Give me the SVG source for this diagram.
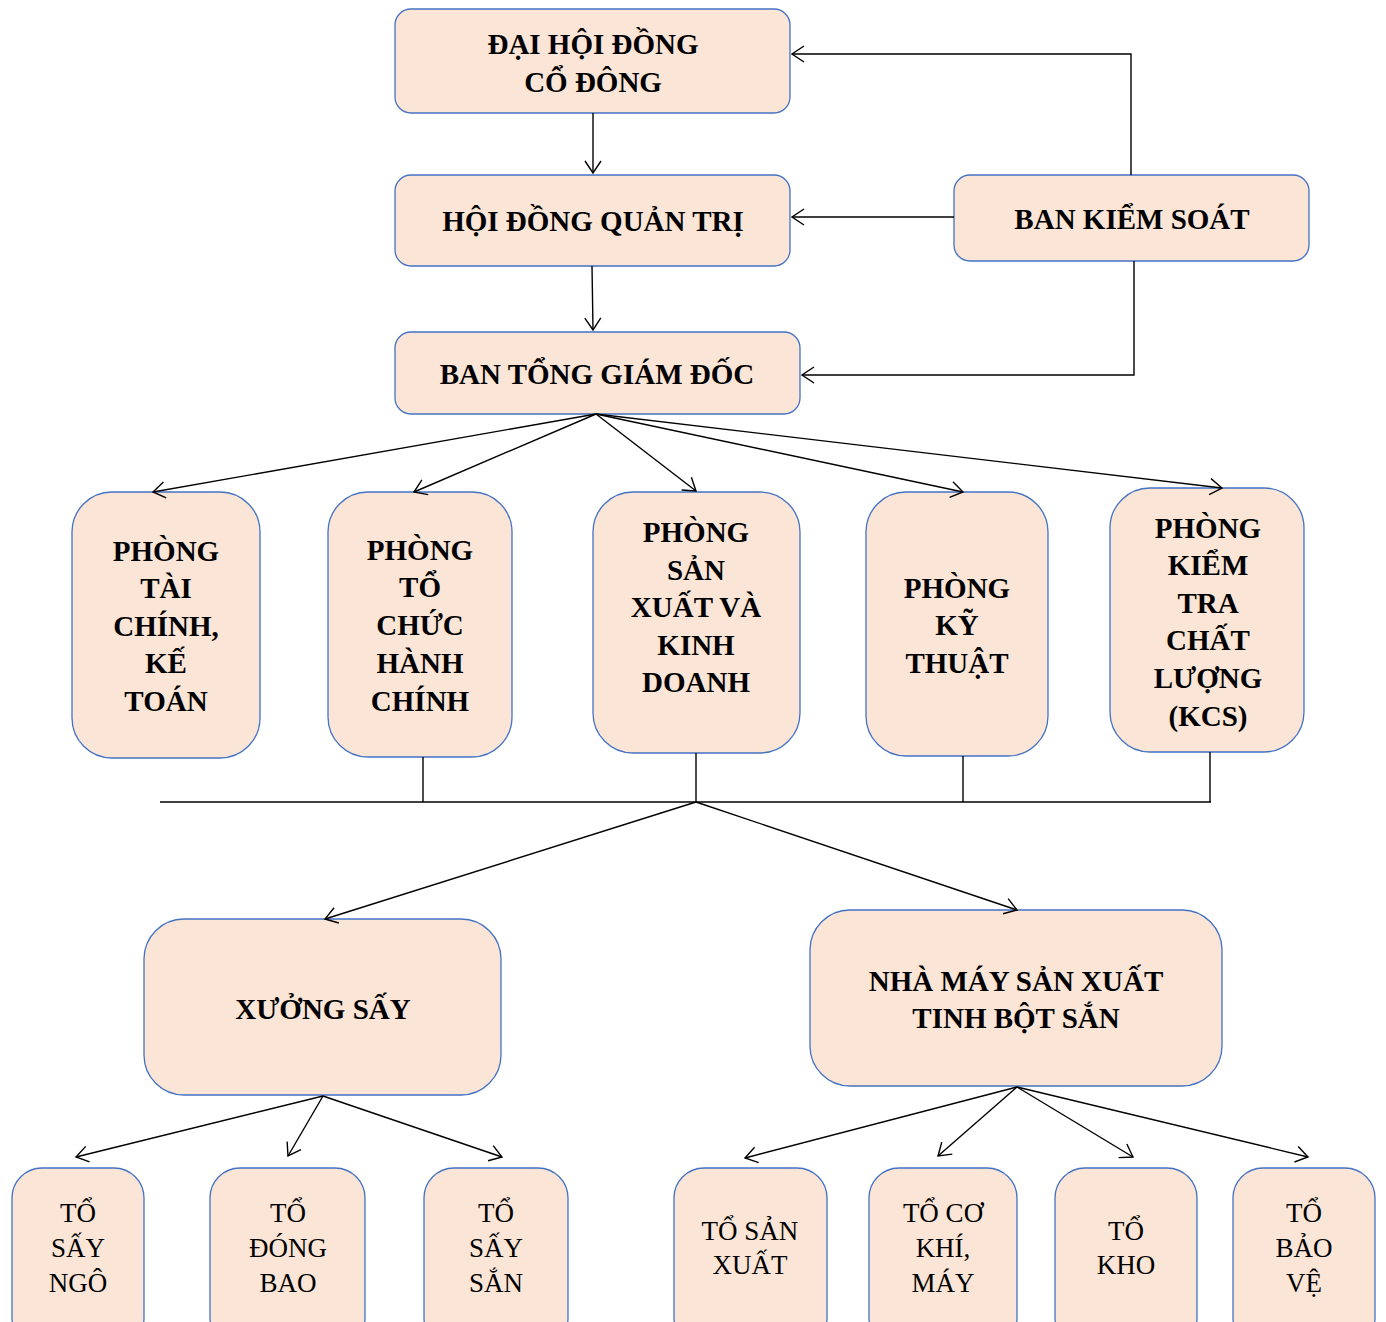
<svg xmlns="http://www.w3.org/2000/svg" width="1386" height="1322" viewBox="0 0 1386 1322">
<defs>
<marker id="arr" markerUnits="userSpaceOnUse" markerWidth="24" markerHeight="24" viewBox="-14 -12 24 24" refX="0" refY="0" orient="auto" overflow="visible">
<path d="M-12,-8 L0,0 L-12,8" fill="none" stroke="#000" stroke-width="1.4"/>
</marker>
<style>
.box{fill:#FBE5D6;stroke:#4472C4;stroke-width:1.3}
.b{font-family:"Liberation Serif","Times New Roman",serif;font-weight:bold;font-size:29px;fill:#000;text-anchor:middle}
.r{font-family:"Liberation Serif","Times New Roman",serif;font-size:27px;fill:#000;text-anchor:middle}
.c{fill:none;stroke:#000;stroke-width:1.4}
</style>
</defs>
<rect width="1386" height="1322" fill="#fff"/>
<g id="dhdcd"><rect class="box" x="395" y="9" width="395" height="104" rx="16"/>
<text class="b" x="593" y="54">ĐẠI HỘI ĐỒNG</text><text class="b" x="593" y="92">CỔ ĐÔNG</text></g>
<g id="hdqt"><rect class="box" x="395" y="175" width="395" height="91" rx="16"/>
<text class="b" x="593" y="231">HỘI ĐỒNG QUẢN TRỊ</text></g>
<g id="btgd"><rect class="box" x="395" y="332" width="405" height="82" rx="16"/>
<text class="b" x="597" y="384">BAN TỔNG GIÁM ĐỐC</text></g>
<g id="bks"><rect class="box" x="954" y="175" width="355" height="86" rx="16"/>
<text class="b" x="1132" y="229">BAN KIỂM SOÁT</text></g>
<g id="ptckt"><rect class="box" x="72" y="492" width="188" height="266" rx="40"/>
<text class="b" x="166" y="561">PHÒNG</text><text class="b" x="166" y="598">TÀI</text><text class="b" x="166" y="636">CHÍNH,</text><text class="b" x="166" y="673">KẾ</text><text class="b" x="166" y="711">TOÁN</text></g>
<g id="ptchc"><rect class="box" x="328" y="492" width="184" height="265" rx="40"/>
<text class="b" x="420" y="560">PHÒNG</text><text class="b" x="420" y="597">TỔ</text><text class="b" x="420" y="635">CHỨC</text><text class="b" x="420" y="673">HÀNH</text><text class="b" x="420" y="711">CHÍNH</text></g>
<g id="psxkd"><rect class="box" x="593" y="492" width="207" height="261" rx="40"/>
<text class="b" x="696" y="542">PHÒNG</text><text class="b" x="696" y="580">SẢN</text><text class="b" x="696" y="617">XUẤT VÀ</text><text class="b" x="696" y="655">KINH</text><text class="b" x="696" y="692">DOANH</text></g>
<g id="pkt"><rect class="box" x="866" y="492" width="182" height="264" rx="40"/>
<text class="b" x="957" y="598">PHÒNG</text><text class="b" x="957" y="635">KỸ</text><text class="b" x="957" y="673">THUẬT</text></g>
<g id="pkcs"><rect class="box" x="1110" y="488" width="194" height="264" rx="40"/>
<text class="b" x="1208" y="538">PHÒNG</text><text class="b" x="1208" y="575">KIỂM</text><text class="b" x="1208" y="613">TRA</text><text class="b" x="1208" y="650">CHẤT</text><text class="b" x="1208" y="688">LƯỢNG</text><text class="b" x="1208" y="726">(KCS)</text></g>
<g id="xuongsay"><rect class="box" x="144" y="919" width="357" height="176" rx="40"/>
<text class="b" x="323" y="1019">XƯỞNG SẤY</text></g>
<g id="nhamay"><rect class="box" x="810" y="910" width="412" height="176" rx="40"/>
<text class="b" x="1016" y="991">NHÀ MÁY SẢN XUẤT</text><text class="b" x="1016" y="1028">TINH BỘT SẮN</text></g>
<g id="tosayngo"><rect class="box" x="12" y="1168" width="132" height="180" rx="30"/>
<text class="r" x="78" y="1222">TỔ</text><text class="r" x="78" y="1257">SẤY</text><text class="r" x="78" y="1292">NGÔ</text></g>
<g id="todongbao"><rect class="box" x="210" y="1168" width="155" height="180" rx="30"/>
<text class="r" x="288" y="1222">TỔ</text><text class="r" x="288" y="1257">ĐÓNG</text><text class="r" x="288" y="1292">BAO</text></g>
<g id="tosaysan"><rect class="box" x="424" y="1168" width="144" height="180" rx="30"/>
<text class="r" x="496" y="1222">TỔ</text><text class="r" x="496" y="1257">SẤY</text><text class="r" x="496" y="1292">SẮN</text></g>
<g id="tosanxuat"><rect class="box" x="674" y="1168" width="153" height="180" rx="30"/>
<text class="r" x="750" y="1240">TỔ SẢN</text><text class="r" x="750" y="1274">XUẤT</text></g>
<g id="tocokhi"><rect class="box" x="869" y="1168" width="148" height="180" rx="30"/>
<text class="r" x="943" y="1222">TỔ CƠ</text><text class="r" x="943" y="1257">KHÍ,</text><text class="r" x="943" y="1292">MÁY</text></g>
<g id="tokho"><rect class="box" x="1055" y="1168" width="142" height="180" rx="30"/>
<text class="r" x="1126" y="1240">TỔ</text><text class="r" x="1126" y="1274">KHO</text></g>
<g id="tobaove"><rect class="box" x="1233" y="1168" width="142" height="180" rx="30"/>
<text class="r" x="1304" y="1222">TỔ</text><text class="r" x="1304" y="1257">BẢO</text><text class="r" x="1304" y="1292">VỆ</text></g>
<g id="connectors">
<line class="c" x1="593" y1="113" x2="593" y2="173" marker-end="url(#arr)"/>
<line class="c" x1="592" y1="266" x2="593" y2="330" marker-end="url(#arr)"/>
<polyline class="c" points="1131,175 1131,54 792,54" marker-end="url(#arr)"/>
<line class="c" x1="954" y1="217" x2="792" y2="217" marker-end="url(#arr)"/>
<polyline class="c" points="1134,261 1134,375 802,375" marker-end="url(#arr)"/>
<line class="c" x1="596" y1="414" x2="153" y2="492" marker-end="url(#arr)"/>
<line class="c" x1="596" y1="414" x2="414" y2="492" marker-end="url(#arr)"/>
<line class="c" x1="596" y1="414" x2="696" y2="491" marker-end="url(#arr)"/>
<line class="c" x1="596" y1="414" x2="963" y2="492" marker-end="url(#arr)"/>
<line class="c" x1="596" y1="414" x2="1222" y2="488" marker-end="url(#arr)"/>
<line class="c" x1="160" y1="802" x2="1211" y2="802"/>
<line class="c" x1="423" y1="757" x2="423" y2="802"/>
<line class="c" x1="696" y1="753" x2="696" y2="802" stroke-width="1"/>
<line class="c" x1="963" y1="756" x2="963" y2="802"/>
<line class="c" x1="1210" y1="752" x2="1210" y2="802"/>
<line class="c" x1="696" y1="802" x2="325" y2="919" marker-end="url(#arr)"/>
<line class="c" x1="696" y1="802" x2="1017" y2="910" marker-end="url(#arr)"/>
<line class="c" x1="323" y1="1096" x2="76" y2="1157" marker-end="url(#arr)"/>
<line class="c" x1="323" y1="1096" x2="288" y2="1156" marker-end="url(#arr)"/>
<line class="c" x1="323" y1="1096" x2="502" y2="1157" marker-end="url(#arr)"/>
<line class="c" x1="1017" y1="1087" x2="745" y2="1158" marker-end="url(#arr)"/>
<line class="c" x1="1017" y1="1087" x2="938" y2="1156" marker-end="url(#arr)"/>
<line class="c" x1="1017" y1="1087" x2="1133" y2="1157" marker-end="url(#arr)"/>
<line class="c" x1="1017" y1="1087" x2="1308" y2="1157" marker-end="url(#arr)"/>
</g>
</svg>
